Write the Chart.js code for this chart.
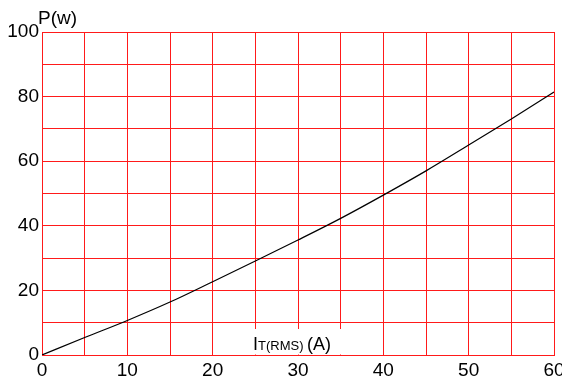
<!DOCTYPE html>
<html>
<head>
<meta charset="utf-8">
<script src="https://cdn.jsdelivr.net/npm/chart.js@4"></script>
<style>
  html, body { margin: 0; padding: 0; background: #fff; }
  #wrap { width: 562px; height: 382px; }
</style>
</head>
<body>
<div id="wrap"><canvas id="chart"></canvas></div>
<script>
// on-state current vs power dissipation
const current = [0, 5, 10, 15, 20, 25, 30, 35, 40, 45, 50, 55, 60];
const power = [0, 5.4, 10.7, 16.4, 22.7, 29.1, 35.6, 42.3, 49.5, 57, 65, 73.1, 81.4];

const FONT = 'Liberation Sans, Arial, sans-serif';

// axis titles drawn by hand, like the datasheet
const titles = {
  id: 'titles',
  beforeDatasetsDraw(chart) {
    const c = chart.ctx;
    const a = chart.chartArea;
    c.save();
    // white patch under the x title
    c.fillStyle = '#fff';
    c.fillRect(250, 329, 100, a.bottom - 329 - 0.5);
    c.restore();
  },
  afterDraw(chart) {
    const c = chart.ctx;
    c.save();
    c.fillStyle = '#000';
    c.textBaseline = 'alphabetic';
    c.textAlign = 'left';
    c.font = '19px ' + FONT;
    c.fillText('P(w)', 38, 24);
    let x = 253;
    const y = 350;
    c.font = '18px ' + FONT;
    c.fillText('I', x, y);
    x += c.measureText('I').width;
    c.font = '13px ' + FONT;
    c.fillText('T(RMS)', x, y);
    x += c.measureText('T(RMS) ').width;
    c.font = '18px ' + FONT;
    c.fillText('(A)', x, y);
    c.restore();
  }
};

const ctx = document.getElementById('chart');

var chart = new Chart(ctx, {
  type: 'line',
  data: {
    datasets: [{
      data: current.map((v, i) => ({ x: v, y: power[i] })),
      borderColor: '#000',
      borderWidth: 1.2,
      pointRadius: 0,
      cubicInterpolationMode: 'monotone',
      fill: false
    }]
  },
  options: {
    responsive: true,
    maintainAspectRatio: false,
    animation: false,
    layout: { padding: { top: 32, right: 0, left: 0, bottom: 0 } },
    plugins: {
      legend: { display: false },
      tooltip: { enabled: false }
    },
    scales: {
      x: {
        type: 'linear',
        min: 0,
        max: 60,
        afterFit: s => { s.height = 27; s.paddingRight = 8; },
        grid: { color: '#ff1a1a', lineWidth: 1, drawTicks: false },
        border: { color: '#ff1a1a' },
        ticks: {
          stepSize: 5,
          padding: 4,
          color: '#000',
          font: { family: FONT, size: 19 },
          maxRotation: 0,
          autoSkip: false,
          callback: v => (v % 10 === 0 ? v : '')
        }
      },
      y: {
        min: 0,
        max: 100,
        afterFit: s => { s.width = 42; },
        grid: { color: '#ff1a1a', lineWidth: 1, drawTicks: false },
        border: { color: '#ff1a1a' },
        ticks: {
          stepSize: 10,
          padding: 3,
          color: '#000',
          font: { family: FONT, size: 19 },
          autoSkip: false,
          callback: v => (v % 20 === 0 ? v : '')
        }
      }
    }
  },
  plugins: [titles]
});
</script>
</body>
</html>
